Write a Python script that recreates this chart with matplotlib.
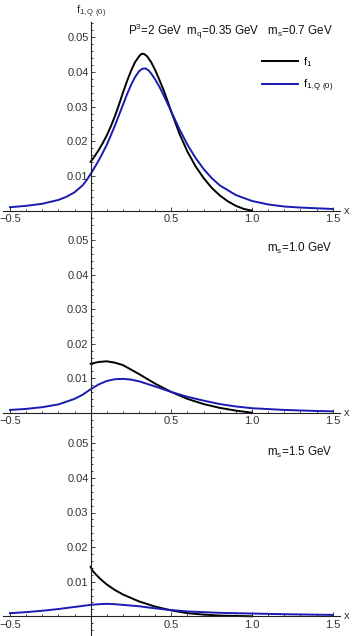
import matplotlib
matplotlib.use('Agg')
import matplotlib.pyplot as plt
from matplotlib.ticker import FixedLocator, MultipleLocator

plt.rcParams['font.family'] = ['Liberation Sans', 'DejaVu Sans']
plt.rcParams['mathtext.fontset'] = 'custom'
plt.rcParams['mathtext.rm'] = 'Liberation Sans'
plt.rcParams['mathtext.it'] = 'Liberation Sans:italic'

# panel 1: m_s = 0.7 GeV
x_f1_a = [0.0, 0.025, 0.05, 0.075, 0.1, 0.125, 0.15, 0.175, 0.2, 0.225, 0.25, 0.275, 0.3,
          0.315, 0.33, 0.35, 0.375, 0.4, 0.425, 0.45, 0.475, 0.5, 0.55, 0.6, 0.65, 0.7,
          0.75, 0.8, 0.85, 0.9, 0.95, 1.0]
f1_a = [0.0141, 0.0157, 0.0175, 0.0195, 0.0217, 0.0243, 0.0272, 0.0305, 0.0340, 0.0373,
        0.0403, 0.0428, 0.0445, 0.0452, 0.0452, 0.0445, 0.0428, 0.0405, 0.0378, 0.0350,
        0.0318, 0.0285, 0.0222, 0.0170, 0.0128, 0.0094, 0.0066, 0.0044, 0.0027, 0.0014,
        0.0005, 0.0]
x_q_a = [-0.5, -0.4, -0.3, -0.2, -0.15, -0.1, -0.05, -0.025, 0.0, 0.025, 0.05, 0.075, 0.1,
         0.125, 0.15, 0.175, 0.2, 0.225, 0.25, 0.275, 0.3, 0.32, 0.34, 0.36, 0.38, 0.4,
         0.425, 0.45, 0.475, 0.5, 0.55, 0.6, 0.65, 0.7, 0.75, 0.8, 0.9, 1.0, 1.1, 1.2,
         1.3, 1.4, 1.5]
fq_a = [0.0010, 0.0014, 0.0020, 0.0031, 0.0040, 0.0053, 0.0073, 0.0088, 0.0106, 0.0125,
        0.0145, 0.0167, 0.0190, 0.0217, 0.0245, 0.0275, 0.0305, 0.0335, 0.0362, 0.0385,
        0.0402, 0.0409, 0.0410, 0.0404, 0.0392, 0.0378, 0.0358, 0.0335, 0.0310, 0.0285,
        0.0235, 0.0190, 0.0152, 0.0120, 0.0094, 0.0073, 0.0045, 0.0028, 0.0018, 0.0012,
        0.0009, 0.0007, 0.0005]

# panel 2: m_s = 1.0 GeV
x_f1_b = [0.0, 0.05, 0.1, 0.15, 0.2, 0.3, 0.4, 0.5, 0.6, 0.7, 0.8, 0.9, 1.0]
f1_b = [0.0142, 0.0147, 0.0149, 0.0145, 0.0138, 0.0112, 0.0084, 0.0060, 0.0040, 0.0025,
        0.0014, 0.0006, 0.0]
x_q_b = [-0.5, -0.4, -0.3, -0.2, -0.1, -0.05, 0.0, 0.05, 0.1, 0.15, 0.2, 0.25, 0.3, 0.4,
         0.5, 0.6, 0.7, 0.8, 0.9, 1.0, 1.2, 1.4, 1.5]
fq_b = [0.0008, 0.0011, 0.0016, 0.0024, 0.0040, 0.0052, 0.0068, 0.0082, 0.0092, 0.0097,
        0.0098, 0.0096, 0.0091, 0.0076, 0.0060, 0.0046, 0.0035, 0.0025, 0.0018, 0.0013,
        0.0008, 0.0005, 0.0004]

# panel 3: m_s = 1.5 GeV
x_f1_c = [0.0, 0.01, 0.03, 0.06, 0.1, 0.15, 0.2, 0.3, 0.4, 0.5, 0.6, 0.7, 0.8, 0.9, 1.0]
f1_c = [0.0143, 0.0133, 0.0122, 0.0108, 0.0092, 0.0076, 0.0063, 0.0043, 0.0028, 0.0017,
        0.0009, 0.0005, 0.0002, 0.0001, 0.0]
x_q_c = [-0.5, -0.4, -0.3, -0.2, -0.1, 0.0, 0.05, 0.1, 0.15, 0.2, 0.3, 0.4, 0.5, 0.6, 0.7,
         0.8, 1.0, 1.2, 1.5]
fq_c = [0.0009, 0.0012, 0.0016, 0.0021, 0.0027, 0.0033, 0.0035, 0.0036, 0.0035, 0.0033,
        0.0029, 0.0023, 0.0018, 0.0014, 0.0012, 0.0010, 0.0008, 0.0006, 0.0004]

panel_labels = [r'P$^{\mathregular{3}}$=2 GeV  m$_{\mathregular{q}}$=0.35 GeV   m$_{\mathregular{s}}$=0.7 GeV',
                r'm$_{\mathregular{s}}$=1.0 GeV',
                r'm$_{\mathregular{s}}$=1.5 GeV']
series = [(x_f1_a, f1_a, x_q_a, fq_a), (x_f1_b, f1_b, x_q_b, fq_b), (x_f1_c, f1_c, x_q_c, fq_c)]

# axes boxes in pixels (top, bottom, zero line) and y-scale (px per unit)
W, H = 354, 636
boxes = [(21.7, 228, 210.7, 3470), (228, 430, 412.7, 3450), (430, 636, 616.3, 3460)]
label_y = [31, 248, 452]

blue = '#1a1ab4'
axis_col = '#222222'
lab_col = '#333333'

fig = plt.figure(figsize=(W / 100, H / 100), dpi=100)
for i, ((top, bot, zero, scale), (xa, ya, xb, yb)) in enumerate(zip(boxes, series)):
    ax = fig.add_axes([2.7 / W, (H - bot) / H, 337.3 / W, (bot - top) / H])
    ax.set_xlim(-0.545, 1.545)
    ax.set_ylim(-(bot - zero) / scale, (zero - top) / scale)
    ax.patch.set_alpha(0)

    l1, = ax.plot(xa, ya, color='black', lw=1.4, label=r'f$_{\mathregular{1}}$')
    l2, = ax.plot(xb, yb, color=blue, lw=1.4, label=r'f$_{\mathregular{1,Q\ (0)}}$')

    for s in ['top', 'right']:
        ax.spines[s].set_visible(False)
    for s in ['left', 'bottom']:
        ax.spines[s].set_position(('data', 0))
        ax.spines[s].set_color(axis_col)
        ax.spines[s].set_linewidth(0.8)

    ax.xaxis.set_major_locator(FixedLocator([-0.5, 0.5, 1.0, 1.5]))
    ax.xaxis.set_minor_locator(MultipleLocator(0.1))
    ax.yaxis.set_major_locator(FixedLocator([0.01, 0.02, 0.03, 0.04, 0.05]))
    ax.yaxis.set_minor_locator(MultipleLocator(0.002))
    ax.set_xticklabels(['\u22120.5', '0.5', '1.0', '1.5'])
    ax.set_yticklabels(['0.01', '0.02', '0.03', '0.04', '0.05'])
    ax.tick_params(which='both', direction='in', colors=axis_col, labelcolor=lab_col,
                   labelsize=8, width=0.6)
    ax.tick_params(which='major', length=3)
    ax.tick_params(which='minor', length=1.6)
    ax.tick_params(axis='x', pad=2.5)
    ax.tick_params(axis='y', pad=1.5)

    ax.text(1.587, 0, 'x', fontsize=8, color=lab_col, ha='center', va='center')
    ax.text(1.50, (zero - label_y[i]) / scale, panel_labels[i],
            fontsize=8.4, color='#111111', ha='right', va='center')

    if i == 0:
        ax.text(0, (zero - 12) / scale, r'f$_{\mathregular{1,Q\ (0)}}$', fontsize=8,
                color=lab_col, ha='center', va='center')
        ax.legend(handles=[l1, l2], loc='upper left', frameon=False, fontsize=8,
                  bbox_to_anchor=(262 / W, (H - 55) / H), bbox_transform=fig.transFigure,
                  borderpad=0, borderaxespad=0, handlelength=3.2, handletextpad=0.45,
                  labelspacing=0.75)

fig.savefig('out.png', dpi=100)
